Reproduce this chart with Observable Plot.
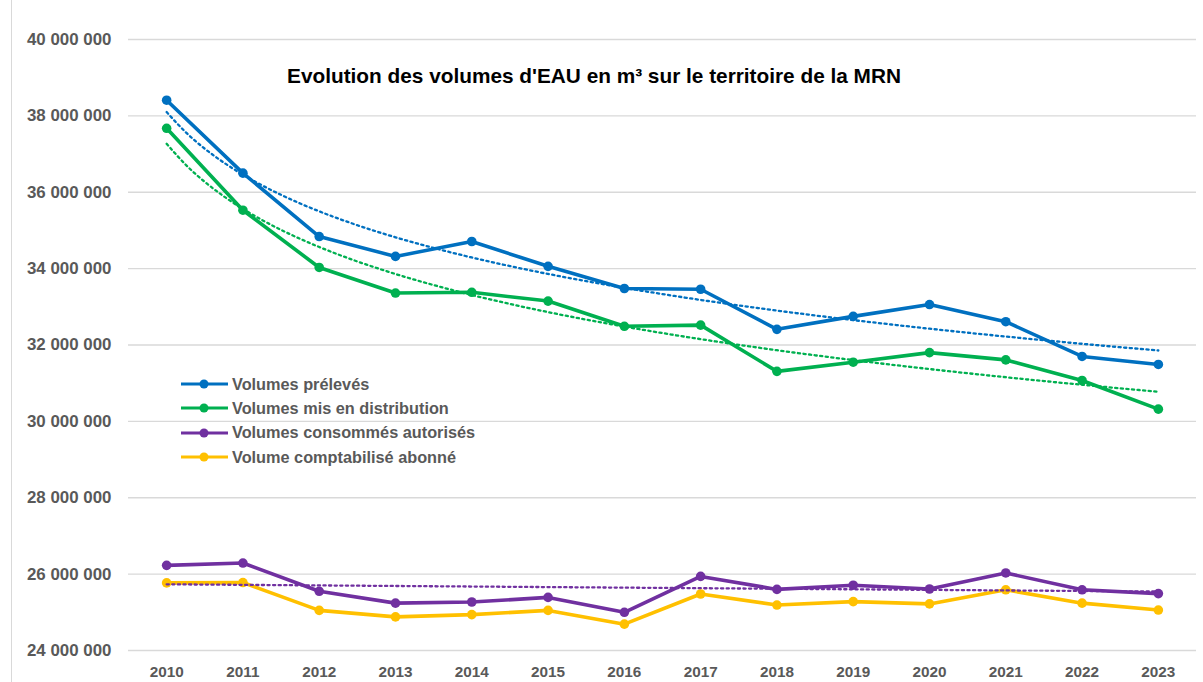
<!DOCTYPE html>
<html>
<head>
<meta charset="utf-8">
<script src="https://cdn.jsdelivr.net/npm/d3@7"></script>
<script src="https://cdn.jsdelivr.net/npm/@observablehq/plot@0.6"></script>
<style>
  html, body { margin: 0; padding: 0; background: #fff; }
  #wrap { position: relative; width: 1203px; height: 682px; font-family: "Liberation Sans", Arial, sans-serif; }
  #border { position: absolute; left: 11px; top: 0; bottom: 0; width: 0; border-left: 1px solid #d9d9d9; }
  #title { position: absolute; left: 0; width: 1188px; top: 64px; text-align: center; font-weight: bold; font-size: 20.8px; color: #000; }
  #legend { position: absolute; left: 181px; top: 372px; font-size: 16.3px; font-weight: bold; color: #595959; }
  #legend .row { display: flex; align-items: center; height: 24.3px; }
  #legend svg { margin-right: 4px; }
</style>
</head>
<body>
<div id="wrap">
  <div id="border"></div>
  <div id="chart"></div>
  <div id="title">Evolution des volumes d'EAU en m³ sur le territoire de la MRN</div>
  <div id="legend"></div>
</div>
<script>
const years = [2010, 2011, 2012, 2013, 2014, 2015, 2016, 2017, 2018, 2019, 2020, 2021, 2022, 2023];
const volumesPreleves = [38410000, 36500000, 34840000, 34320000, 34710000, 34060000, 33480000, 33460000, 32410000, 32750000, 33060000, 32610000, 31700000, 31490000];
const volumesDistribution = [37675000, 35530000, 34030000, 33360000, 33380000, 33150000, 32490000, 32520000, 31310000, 31550000, 31800000, 31610000, 31070000, 30320000];
const volumesConsommes = [26230000, 26290000, 25550000, 25240000, 25270000, 25390000, 25000000, 25940000, 25600000, 25710000, 25610000, 26030000, 25590000, 25490000];
const volumeAbonne = [25770000, 25780000, 25050000, 24880000, 24940000, 25050000, 24690000, 25480000, 25190000, 25280000, 25220000, 25590000, 25240000, 25060000];
const seriesNames = ["Volumes prélevés", "Volumes mis en distribution", "Volumes consommés autorisés", "Volume comptabilisé abonné"];
const seriesColors = ["#0070C0", "#00B050", "#7030A0", "#FFC000"];
const yTicks = [24000000, 26000000, 28000000, 30000000, 32000000, 34000000, 36000000, 38000000, 40000000];

const seriesValues = [volumesPreleves, volumesDistribution, volumesConsommes, volumeAbonne];
const rows = [];
seriesNames.forEach((name, s) => years.forEach((yr, i) => rows.push({name, year: yr, value: seriesValues[s][i]})));

// Trend lines fitted on the data (log for the first two, linear for the third)
function fit(values, transform) {
  const xs = values.map((_, i) => transform(i + 1));
  const mx = d3.mean(xs), my = d3.mean(values);
  const b = d3.sum(xs, (x, i) => (x - mx) * (values[i] - my)) / d3.sum(xs, x => (x - mx) ** 2);
  const a = my - b * mx;
  const out = [];
  for (let t = 1; t <= values.length + 1e-9; t += 0.25) out.push({year: years[0] + t - 1, value: a + b * transform(t)});
  return out;
}
const trends = [
  {name: seriesNames[0], pts: fit(volumesPreleves, Math.log)},
  {name: seriesNames[1], pts: fit(volumesDistribution, Math.log)},
  {name: seriesNames[2], pts: fit(volumesConsommes, x => x)}
];
const trendRows = trends.flatMap(t => t.pts.map(p => ({...p, name: t.name})));

const fmt = n => d3.format(",")(n).replace(/,/g, "\u00a0");

const chart = Plot.plot({
  width: 1203,
  height: 682,
  marginLeft: 128,
  marginRight: 7,
  marginTop: 39,
  marginBottom: 32,
  style: {fontFamily: "Liberation Sans, Arial, sans-serif", background: "white"},
  x: {domain: [years[0] - 0.5, years[years.length - 1] + 0.5], axis: null},
  y: {domain: [yTicks[0], yTicks[yTicks.length - 1]], axis: null},
  color: {domain: seriesNames, range: seriesColors},
  marks: [
    Plot.ruleY(yTicks, {stroke: "#d9d9d9", strokeWidth: 1.3}),
    Plot.axisY(yTicks, {tickSize: 0, tickPadding: 17, tickFormat: fmt, fontSize: 16.9, fontWeight: "bold", fill: "#595959", label: null}),
    Plot.axisX(years, {tickSize: 0, tickPadding: 16, tickFormat: d => String(d), fontSize: 15.3, fontWeight: "bold", fill: "#595959", label: null}),
    Plot.line(rows, {x: "year", y: "value", z: "name", stroke: "name", strokeWidth: 3.6, strokeLinejoin: "round"}),
    Plot.dot(rows, {x: "year", y: "value", fill: "name", r: 4.8}),
    Plot.line(trendRows, {x: "year", y: "value", z: "name", stroke: "name", strokeWidth: 2.3, strokeDasharray: "2.2,3.4", curve: "natural"})
  ]
});
document.getElementById("chart").appendChild(chart);

const legend = document.getElementById("legend");
seriesNames.forEach((name, i) => {
  const row = document.createElement("div");
  row.className = "row";
  row.innerHTML = `<svg width="47" height="12"><line x1="0" x2="47" y1="6" y2="6" stroke="${seriesColors[i]}" stroke-width="3.2"/><circle cx="23" cy="6" r="4.5" fill="${seriesColors[i]}"/></svg><span>${name}</span>`;
  legend.appendChild(row);
});
</script>
</body>
</html>
